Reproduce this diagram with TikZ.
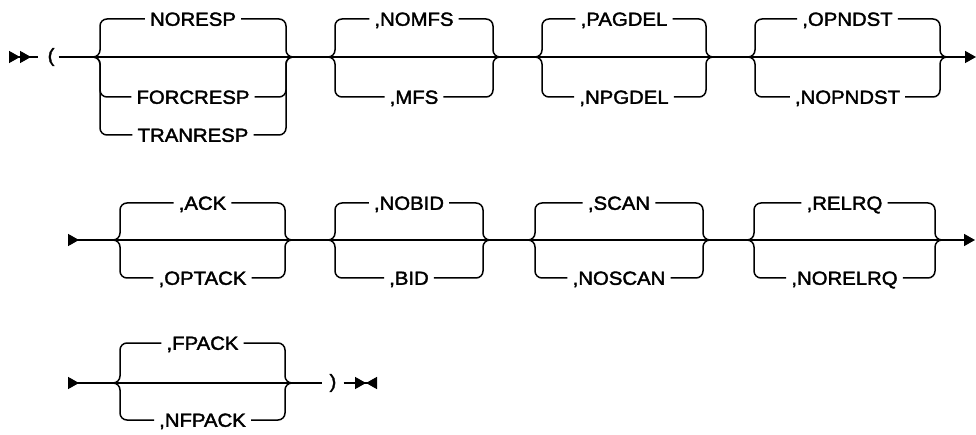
\documentclass[tikz,border=0pt]{standalone}
\usepackage{fontspec}
\newfontfamily\railfont[FakeStretch=1.07,FakeBold=2]{Liberation Sans}
\usetikzlibrary{arrows.meta}

\tikzset{
  main/.style={line width=1.5pt},
  rail/.style={line width=1.5pt, rounded corners=7pt},
  opt/.style={font=\railfont\fontsize{19}{21}\selectfont, inner xsep=5pt,
    inner ysep=0pt, text height=13.6pt, text depth=0pt},
  paren/.style={font=\railfont\fontsize{19}{21}\selectfont, inner xsep=4pt}
}

% one choice: name, left x, right x, main y, top y, bottom y, top text, bottom text
\newcommand{\railchoice}[8]{%
  \coordinate (#1l) at (#2,#4);
  \coordinate (#1r) at (#3,#4);
  \node[opt] (#1t) at ({(#2+#3)/2},#5) {#7};
  \node[opt] (#1b) at ({(#2+#3)/2},#6) {#8};
  \draw[rail] (#1l) -- ++(7,0) |- (#1t.west);
  \draw[rail] (#1t.east) -| ([xshift=-7pt]#1r) -- (#1r);
  \draw[rail] (#1l) -- ++(7,0) |- (#1b.west);
  \draw[rail] (#1b.east) -| ([xshift=-7pt]#1r) -- (#1r);
}

\begin{document}
\begin{tikzpicture}[x=1pt,y=-1pt,>={Triangle[length=11pt,width=12pt,sep=0pt]}]
  \useasboundingbox (0,0) rectangle (976,435);
  % first line
  \coordinate (r1start) at (9,57);
  \coordinate (r1a) at (38,57);
  \node[paren] (lparen) at (51,57) {(};
  \railchoice{g1}{93}{293}{57}{19}{97}{NORESP}{FORCRESP}
  \node[opt] (g1x) at (193,135) {TRANRESP};
  \draw[rail] (g1l) -- ++(7,0) |- (g1x.west);
  \draw[rail] (g1x.east) -| ([xshift=-7pt]g1r) -- (g1r);
  \railchoice{g2}{328}{500}{57}{19}{97}{,NOMFS}{,MFS}
  \railchoice{g3}{535}{713}{57}{19}{97}{,PAGDEL}{,NPGDEL}
  \railchoice{g4}{748}{947}{57}{19}{97}{,OPNDST}{,NOPNDST}
  \coordinate (r1end) at (976,57);
  \draw[main,>>-] (r1start) -- (r1a);
  \draw[main] (lparen) -- (g1l) -- (g1r) -- (g2l) -- (g2r) -- (g3l) -- (g3r) -- (g4l);
  \draw[main,->] (g4l) -- (g4r) -- (r1end);
  % second line
  \coordinate (r2start) at (68,240);
  \railchoice{h1}{113}{292}{240}{203}{278}{,ACK}{,OPTACK}
  \railchoice{h2}{328}{490}{240}{203}{278}{,NOBID}{,BID}
  \railchoice{h3}{528}{710}{240}{203}{278}{,SCAN}{,NOSCAN}
  \railchoice{h4}{747}{942}{240}{203}{278}{,RELRQ}{,NORELRQ}
  \coordinate (r2end) at (975,240);
  \draw[main,>-] (r2start) -- (h1l) -- (h1r) -- (h2l) -- (h2r) -- (h3l) -- (h3r) -- (h4l);
  \draw[main,->] (h4l) -- (h4r) -- (r2end);
  % third line
  \coordinate (r3start) at (68,383);
  \railchoice{k1}{113}{292}{383}{343}{420}{,FPACK}{,NFPACK}
  \node[paren, inner xsep=7pt] (rparen) at (333,383) {)};
  \coordinate (r3end) at (377,383);
  \draw[main,>-] (r3start) -- (k1l) -- (k1r) -- (rparen);
  \draw[main,-><] (rparen) -- (r3end);
\end{tikzpicture}
\end{document}
